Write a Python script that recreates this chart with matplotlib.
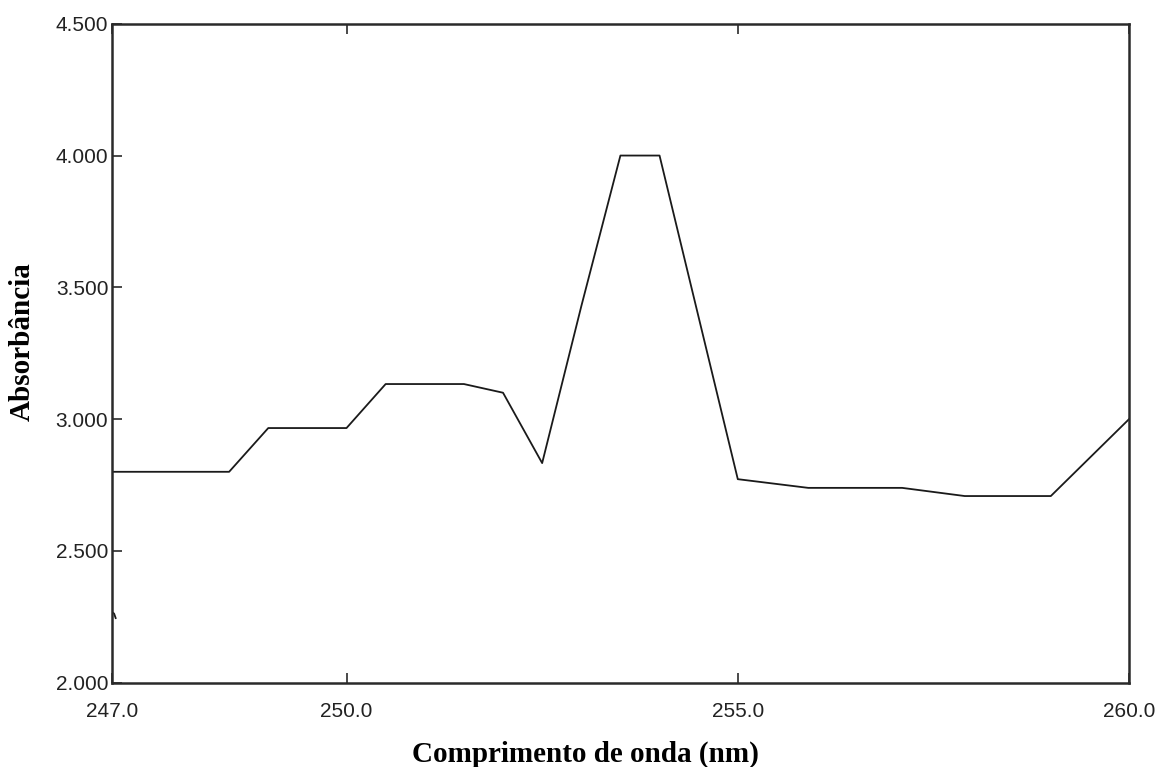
import matplotlib
matplotlib.use("Agg")
import matplotlib.pyplot as plt

# Spectrum data (wavelength nm, absorbance)
wavelength = [247.0, 248.5, 249.0, 250.0, 250.5, 251.5, 252.0, 252.5, 253.0,
              253.5, 254.0, 255.0, 255.9, 257.1, 257.9, 259.0, 260.0]
absorbance = [2.800, 2.800, 2.966, 2.966, 3.133, 3.133, 3.100, 2.833, 3.428,
              4.000, 4.000, 2.772, 2.739, 2.739, 2.708, 2.708, 3.000]

# small stray trace near the left axis
stray_x = [247.0, 247.03, 247.05]
stray_y = [2.268, 2.262, 2.245]

x_ticks = [247.0, 250.0, 255.0, 260.0]
x_tick_labels = ["247.0", "250.0", "255.0", "260.0"]
y_ticks = [2.0, 2.5, 3.0, 3.5, 4.0, 4.5]
y_tick_labels = ["2.000", "2.500", "3.000", "3.500", "4.000", "4.500"]

fig = plt.figure(figsize=(11.64, 7.67), dpi=100)
ax = fig.add_axes([0.096, 0.110, 0.874, 0.859])

ax.plot(wavelength, absorbance, color="#1a1a1a", linewidth=1.3)
ax.plot(stray_x, stray_y, color="#1a1a1a", linewidth=1.3)

ax.set_xlim(247.0, 260.0)
ax.set_ylim(2.0, 4.5)
ax.set_xticks(x_ticks)
ax.set_xticklabels(x_tick_labels)
ax.set_yticks(y_ticks)
ax.set_yticklabels(y_tick_labels)

for s in ax.spines.values():
    s.set_linewidth(1.8)
    s.set_color("#2a2a2a")

ax.tick_params(axis="both", direction="in", length=7.5, width=1.2,
               color="#2a2a2a", labelsize=15, labelcolor="#222222")
ax.tick_params(axis="x", top=True, pad=14)
ax.tick_params(axis="y", right=False, pad=2.5)
for lab in ax.get_xticklabels() + ax.get_yticklabels():
    lab.set_family(["Liberation Sans", "DejaVu Sans"])

fig.text(0.503, 1 - 762 / 767, "Comprimento de onda (nm)", ha="center", va="baseline",
         fontsize=21, fontweight="bold", family=["Liberation Serif", "DejaVu Serif"])
fig.text(0.019, 0.554, "Absorbância", ha="center", va="center", rotation=90,
         fontsize=21, fontweight="bold", family=["Liberation Serif", "DejaVu Serif"])

fig.savefig("out.png", dpi=100, facecolor="white")
